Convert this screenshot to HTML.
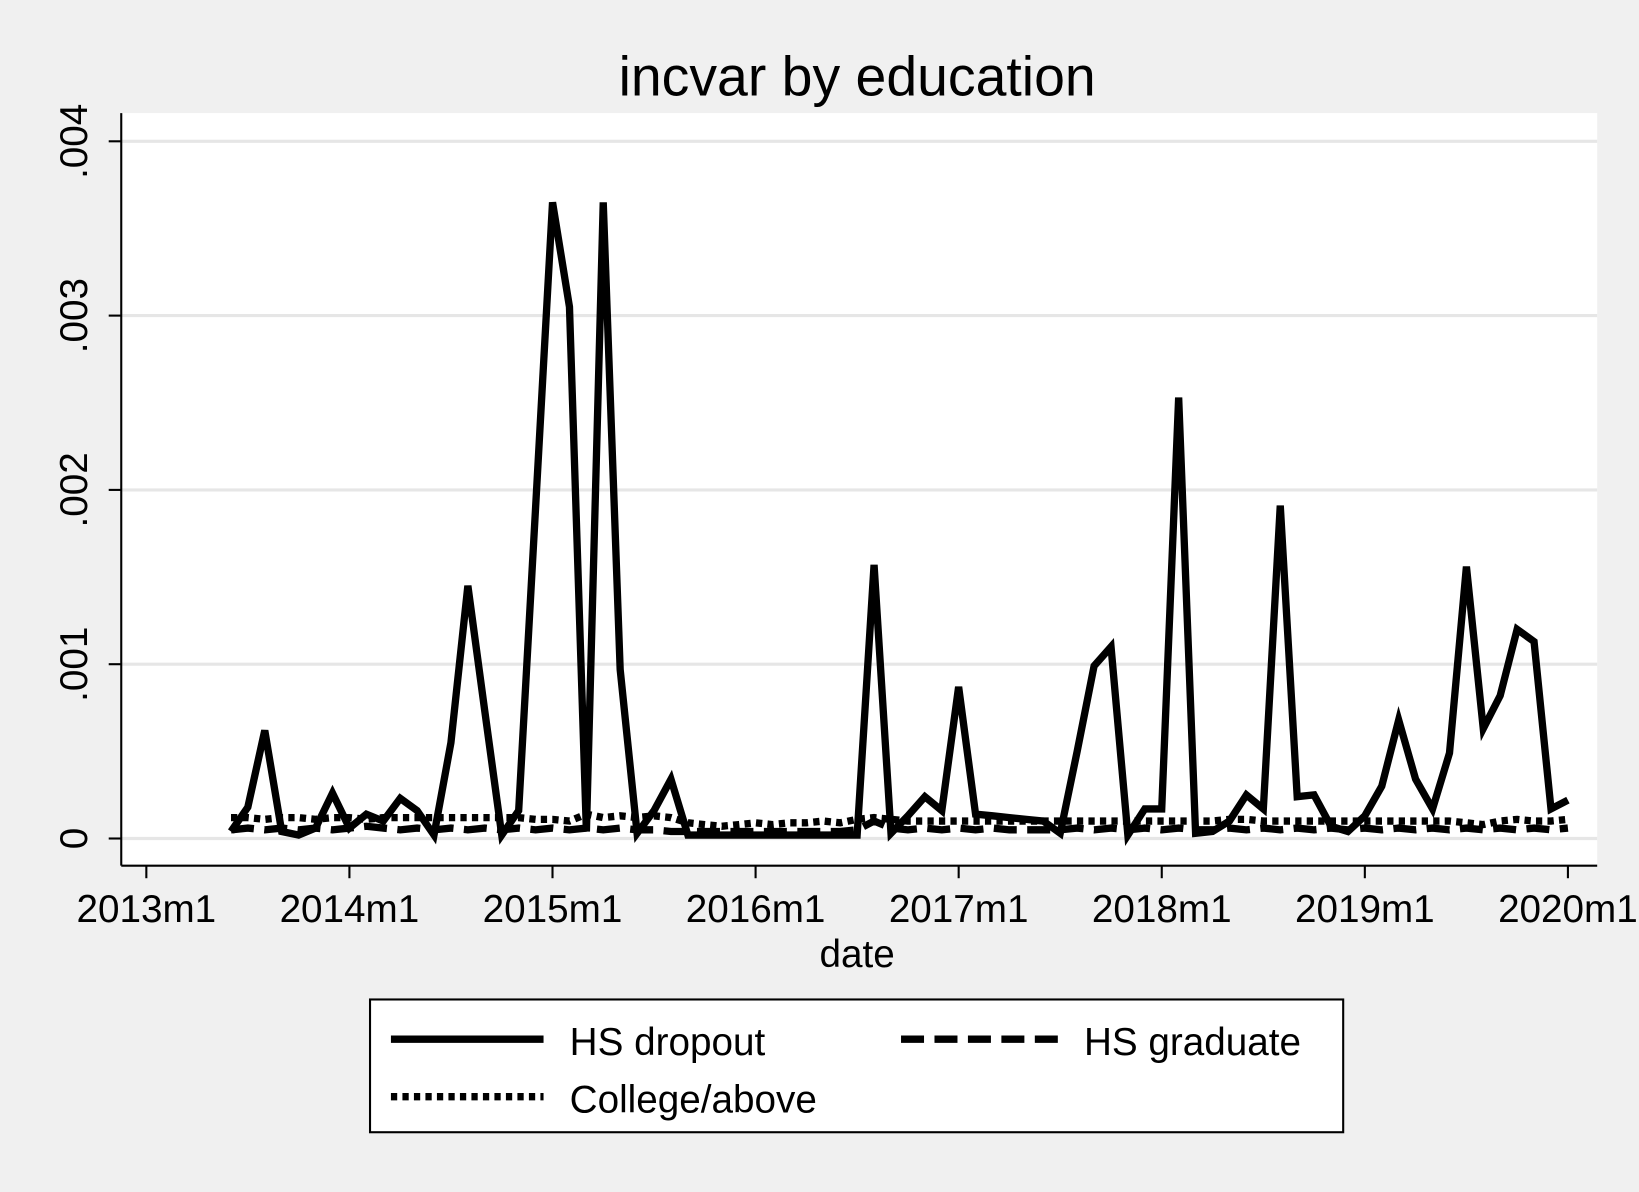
<!DOCTYPE html>
<html><head><meta charset="utf-8"><style>
html,body{margin:0;padding:0;background:#f0f0f0;}
svg{display:block;font-family:"Liberation Sans",Arial,sans-serif;}
</style></head><body>
<svg id="chart" width="1639" height="1192" viewBox="0 0 1568 1140" xmlns="http://www.w3.org/2000/svg">
<rect x="0" y="0" width="1568" height="1140" fill="#f0f0f0"/>
<rect x="116" y="108" width="1412" height="720" fill="#ffffff"/>
<text x="820" y="91" font-size="53" text-anchor="middle">incvar by education</text>
<g id="grid"></g>
<g id="axes"></g>
<g id="series"></g>
<text x="820" y="925" font-size="37" text-anchor="middle">date</text>
<g>
<rect x="354" y="956" width="931" height="127" fill="#fff" stroke="#000" stroke-width="2"/>
<line x1="374" y1="994" x2="520" y2="994" stroke="#000" stroke-width="7"/>
<text x="545" y="1009" font-size="37">HS dropout</text>
<line x1="862" y1="994" x2="1012" y2="994" stroke="#000" stroke-width="7" stroke-dasharray="22 10"/>
<text x="1037" y="1009" font-size="37">HS graduate</text>
<line x1="374" y1="1049" x2="520" y2="1049" stroke="#000" stroke-width="7" stroke-dasharray="6 5"/>
<text x="545" y="1064" font-size="37">College/above</text>
</g>
</svg>
<script>
const xTickLabels = ["2013m1","2014m1","2015m1","2016m1","2017m1","2018m1","2019m1","2020m1"];
const yTicks = [0, 0.001, 0.002, 0.003, 0.004];
const yTickLabels = ["0", ".001", ".002", ".003", ".004"];
const startMonth = 5; // months after 2013m1 (2013m6)
const hsDropout = [0.00004,0.00018,0.00062,0.00004,0.00002,0.00006,0.00026,0.00006,0.00014,0.0001,0.00023,0.00016,0.00002,0.00055,0.00145,0.00073,0.00002,0.00016,0.0019,0.00365,0.00305,0.00004,0.00365,0.00097,0.00003,0.00016,0.00034,0.00002,0.00002,0.00002,0.00002,0.00002,0.00002,0.00002,0.00002,0.00002,0.00002,0.00002,0.00157,0.00003,0.00013,0.00024,0.00016,0.00087,0.00014,0.00013,0.00012,0.00011,0.0001,0.00003,0.0005,0.00099,0.0011,0.00002,0.00017,0.00017,0.00253,0.00003,0.00004,0.0001,0.00025,0.00017,0.00191,0.00024,0.00025,0.00007,0.00004,0.00013,0.0003,0.00068,0.00034,0.00017,0.00049,0.00156,0.00063,0.00082,0.0012,0.00113,0.00017,0.00022];
const hsGraduate = [0.00005,0.00006,0.00005,0.00006,0.00005,0.00006,0.00005,0.00006,0.00007,0.00006,0.00005,0.00006,0.00005,0.00006,0.00005,0.00006,0.00005,0.00006,0.00005,0.00006,0.00005,0.00006,0.00005,0.00006,0.00005,0.00005,0.00004,0.00004,0.00004,0.00004,0.00004,0.00004,0.00004,0.00004,0.00004,0.00004,0.00004,0.00005,0.0001,0.00006,0.00005,0.00006,0.00005,0.00006,0.00005,0.00006,0.00005,0.00005,0.00005,0.00005,0.00006,0.00005,0.00006,0.00005,0.00006,0.00005,0.00006,0.00005,0.00005,0.00006,0.00005,0.00006,0.00005,0.00006,0.00005,0.00006,0.00005,0.00006,0.00005,0.00006,0.00005,0.00006,0.00005,0.00006,0.00005,0.00006,0.00005,0.00006,0.00005,0.00006];
const college = [0.00012,0.00012,0.00011,0.00012,0.00012,0.00011,0.00012,0.00012,0.00011,0.00012,0.00012,0.00012,0.00012,0.00012,0.00012,0.00012,0.00012,0.00012,0.00011,0.00011,0.0001,0.00014,0.00012,0.00013,0.00012,0.00013,0.00012,0.00009,0.00008,0.00007,0.00008,0.00009,0.00008,0.00009,0.00009,0.0001,0.00009,0.00011,0.00012,0.00011,0.0001,0.0001,0.0001,0.0001,0.0001,0.0001,0.0001,0.0001,0.0001,0.0001,0.0001,0.0001,0.0001,0.0001,0.0001,0.0001,0.0001,0.0001,0.0001,0.00011,0.00011,0.0001,0.0001,0.0001,0.0001,0.0001,0.0001,0.0001,0.0001,0.0001,0.0001,0.0001,0.0001,0.00009,0.00008,0.0001,0.00011,0.0001,0.0001,0.00011];

const NS = "http://www.w3.org/2000/svg";
const xScale = m => 140 + m * (1360 / 84);
const yScale = v => 802 - v * 166750;
function mk(tag, attrs, parent){ const e=document.createElementNS(NS,tag); for(const k in attrs) e.setAttribute(k,attrs[k]); parent.appendChild(e); return e; }

const grid = document.getElementById('grid');
const axes = document.getElementById('axes');
yTicks.forEach((v,i)=>{
  const y = yScale(v);
  const g = mk('line',{x1:116,x2:1528,y1:y,y2:y,stroke:'#e6e6e6','stroke-width':3},grid);
  
  
  const t = mk('line',{x1:104,x2:116,y1:y,y2:y,stroke:'#000','stroke-width':2},axes);
  
  
  const lb = mk('text',{x:0,y:0,'font-size':37,'text-anchor':'middle',transform:`translate(83 ${y}) rotate(-90)`},axes);
  lb.textContent = yTickLabels[i];
  
  
});
xTickLabels.forEach((s,i)=>{
  const x = xScale(i*12);
  const t = mk('line',{x1:x,x2:x,y1:828,y2:840,stroke:'#000','stroke-width':2},axes);
  
  
  const lb = mk('text',{x:x,y:882,'font-size':37,'text-anchor':'middle'},axes);
  lb.textContent = s;
  
  
});
const ya = mk('line',{x1:116,x2:116,y1:108,y2:828,stroke:'#000','stroke-width':2},axes);


const xa = mk('line',{x1:116,x2:1528,y1:828,y2:828,stroke:'#000','stroke-width':2},axes);



const series = document.getElementById('series');
function drawLine(vals, dash, name){
  const pts = vals.map((v,i)=>xScale(startMonth+i).toFixed(1)+','+yScale(v).toFixed(1)).join(' ');
  const p = mk('polyline',{points:pts,fill:'none',stroke:'#000','stroke-width':7,'stroke-linejoin':'miter','stroke-miterlimit':4},series);
  if(dash) p.setAttribute('stroke-dasharray',dash);
  
  
}
drawLine(college,'6 5','line-college-above');
drawLine(hsGraduate,'22 10','line-hs-graduate');
drawLine(hsDropout,null,'line-hs-dropout');
</script>
</body></html>
